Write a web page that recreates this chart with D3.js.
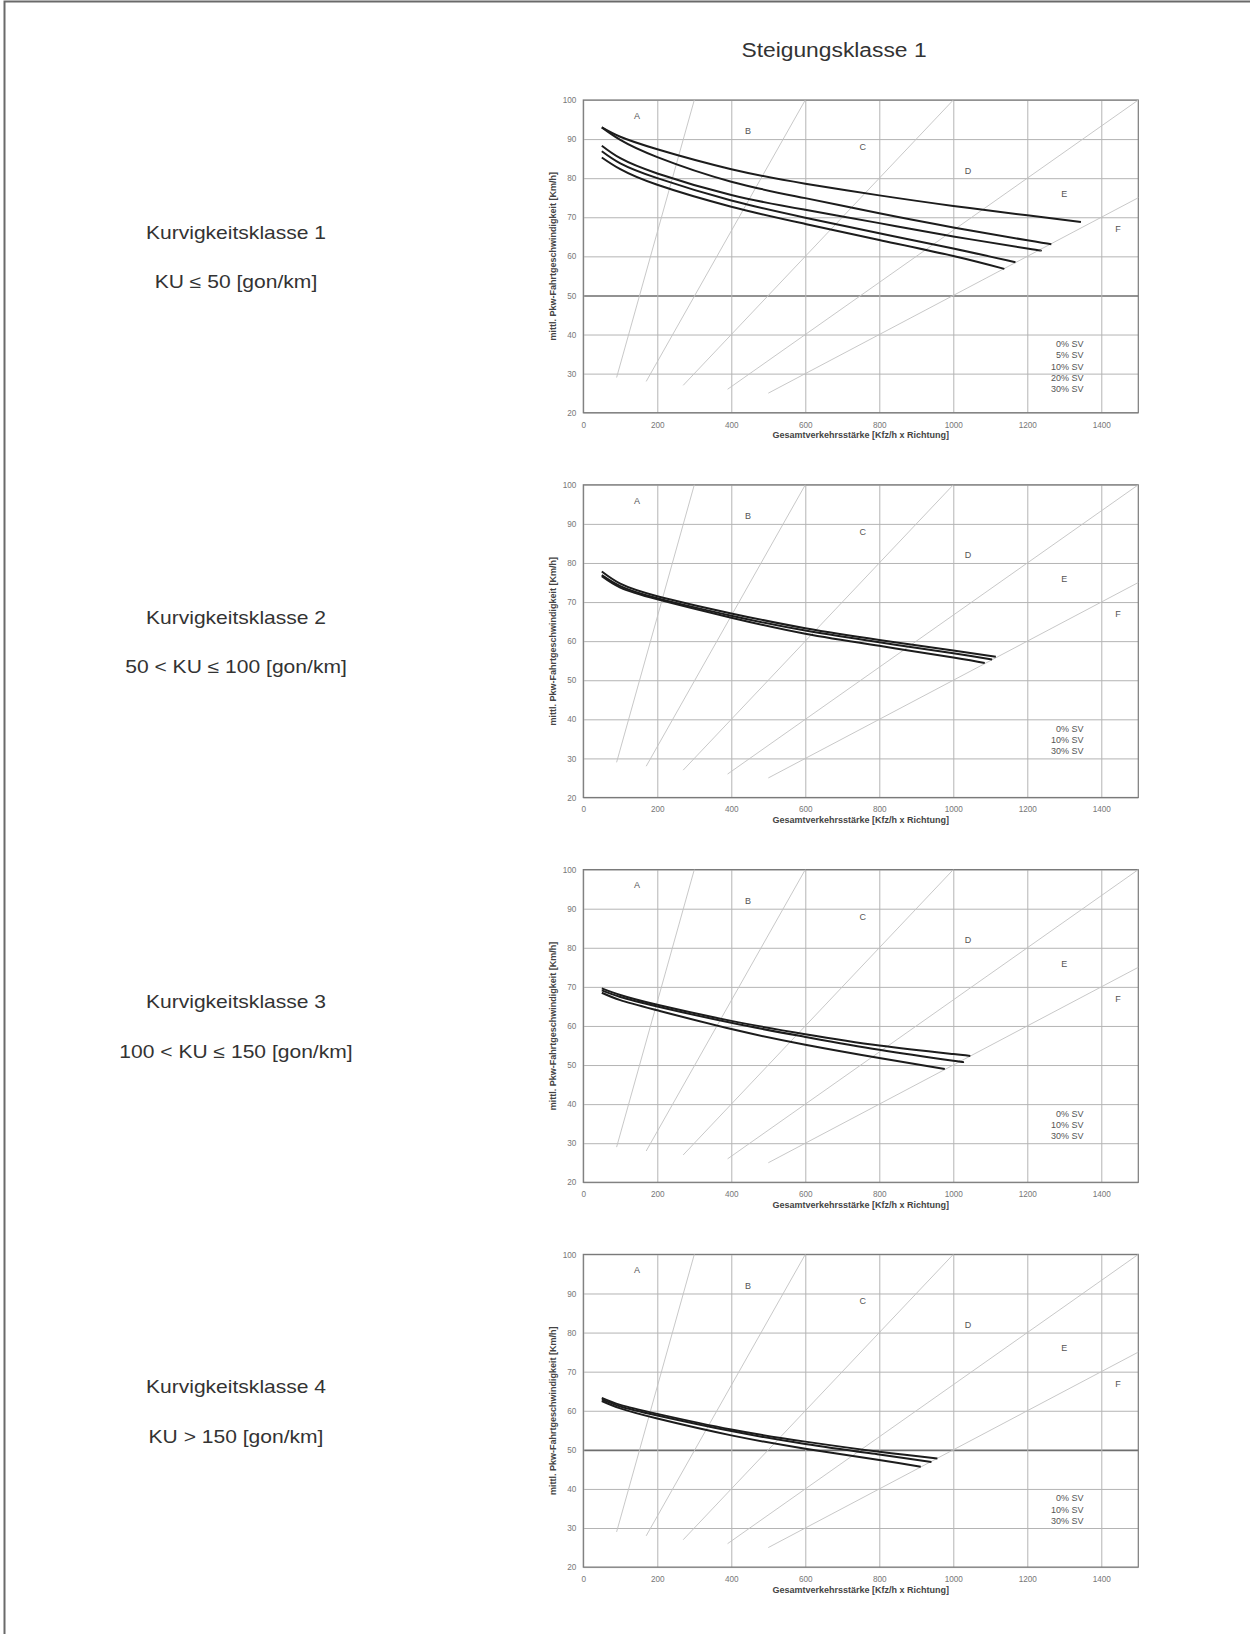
<!DOCTYPE html>
<html>
<head>
<meta charset="utf-8">
<script src="https://cdn.jsdelivr.net/npm/d3@7"></script>
<style>
  html, body { margin: 0; padding: 0; background: #fff; }
  svg { display: block; font-family: "Liberation Sans", Arial, sans-serif; }
</style>
</head>
<body>
<svg id="chart" width="1250" height="1634"></svg>
<script>
// ---- axes ----
const xTicks = [0, 200, 400, 600, 800, 1000, 1200, 1400];
const yTicks = [20, 30, 40, 50, 60, 70, 80, 90, 100];
const xDomain = [0, 1500];
const yDomain = [20, 100];

// ---- level-of-service zones (boundary lines and letters) ----
const zoneLetters = ["A", "B", "C", "D", "E", "F"];
const zoneLetterFlow = [145, 445, 755, 1040, 1300, 1445];
const zoneLetterSpeed = [96, 92, 88, 82, 76, 67];
const boundaryFrom = [[90, 29], [170, 28], [270, 27], [390, 26], [500, 25]];
const boundaryTo = [[300, 100], [600, 100], [1000, 100], [1500, 100], [1500, 75]];

// ---- speed curves: flow steps, speeds at those steps, curve end point ----
const flowSteps = [50, 100, 200, 400, 600, 800, 1000, 1200];

// Kurvigkeitsklasse 1
const k1Labels = ["0% SV", "5% SV", "10% SV", "20% SV", "30% SV"];
const k1Speeds = [
  [93.0, 90.6, 87.4, 82.3, 78.6, 75.6, 72.9, 70.5],
  [93.0, 89.8, 85.4, 79.1, 74.9, 71.0, 67.4, 64.1],
  [88.3, 85.1, 81.2, 75.7, 71.9, 68.5, 65.1, 62.0],
  [86.9, 83.8, 80.0, 74.3, 69.9, 65.9, 62.0],
  [85.3, 82.3, 78.3, 72.7, 68.3, 64.2, 60.1]
];
const k1Ends = [[1345, 68.8], [1265, 63.1], [1235, 61.5], [1168, 58.5], [1138, 56.8]];

// Kurvigkeitsklasse 2
const k2Labels = ["0% SV", "10% SV", "30% SV"];
const k2Speeds = [
  [77.8, 74.7, 71.5, 67.1, 63.3, 60.3, 57.6],
  [76.9, 74.1, 71.0, 66.5, 62.7, 59.7, 56.9],
  [76.6, 73.7, 70.7, 66.0, 61.9, 58.8, 55.8]
];
const k2Ends = [[1115, 56.0], [1105, 55.3], [1085, 54.4]];

// Kurvigkeitsklasse 3
const k3Labels = ["0% SV", "10% SV", "30% SV"];
const k3Speeds = [
  [69.6, 67.9, 65.4, 61.3, 57.9, 55.0, 52.8],
  [69.1, 67.4, 65.0, 60.8, 57.2, 53.9, 51.1],
  [68.5, 66.6, 64.0, 59.2, 55.2, 51.8]
];
const k3Ends = [[1046, 52.3], [1016, 50.9], [977, 49.0]];

// Kurvigkeitsklasse 4
const k4Labels = ["0% SV", "10% SV", "30% SV"];
const k4Speeds = [
  [63.3, 61.5, 59.2, 55.2, 52.1, 49.5],
  [62.9, 61.1, 58.8, 54.8, 51.5, 48.8],
  [62.5, 60.6, 58.0, 53.7, 50.3, 47.4]
];
const k4Ends = [[957, 47.8], [941, 46.9], [912, 45.7]];

// ---- panel texts ----
const pageTitle = "Steigungsklasse 1";
const classNames = ["Kurvigkeitsklasse 1", "Kurvigkeitsklasse 2", "Kurvigkeitsklasse 3", "Kurvigkeitsklasse 4"];
const classRanges = ["KU \u2264 50 [gon/km]", "50 < KU \u2264 100 [gon/km]", "100 < KU \u2264 150 [gon/km]", "KU > 150 [gon/km]"];
const xTitle = "Gesamtverkehrsst\u00e4rke [Kfz/h x Richtung]";
const yTitle = "mittl. Pkw-Fahrtgeschwindigkeit [Km/h]";

const panels = [
  { labels: k1Labels, speeds: k1Speeds, ends: k1Ends, strong50: true },
  { labels: k2Labels, speeds: k2Speeds, ends: k2Ends, strong50: false },
  { labels: k3Labels, speeds: k3Speeds, ends: k3Ends, strong50: false },
  { labels: k4Labels, speeds: k4Speeds, ends: k4Ends, strong50: true }
];

// ---- layout ----
const plotLeft = 583.3, plotWidth = 555, plotHeight = 312.7;
const firstTop = 100, panelStep = 384.8;
const labelCenterX = 236;
const wideText = 1.17; // horizontal stretch of the large captions

const svg = d3.select("#chart");

// page frame (top and left edges)
svg.append("path")
  .attr("d", "M4.5,1634 V1.5 H1250")
  .attr("fill", "none").attr("stroke", "#6a6a6a").attr("stroke-width", 2);

// large caption, centred on (cx, cy) and stretched horizontally
function caption(txt, cx, cy, size) {
  svg.append("g")
    .attr("transform", `translate(${cx},${cy}) scale(${wideText},1)`)
    .append("text")
    .attr("dy", "0.36em")
    .attr("text-anchor", "middle")
    .attr("font-size", size).attr("fill", "#333")
    .text(txt);
}

caption(pageTitle, 834, 50, 19.5);

const x = d3.scaleLinear().domain(xDomain).range([0, plotWidth]);
const y = d3.scaleLinear().domain(yDomain).range([plotHeight, 0]);

const line = d3.line()
  .x(d => x(d[0]))
  .y(d => y(d[1]))
  .curve(d3.curveNatural);

panels.forEach((p, i) => {
  const top = firstTop + i * panelStep;
  const g = svg.append("g").attr("transform", `translate(${plotLeft},${top})`);
  const midY = top + plotHeight / 2;

  // class label on the left
  caption(classNames[i], labelCenterX, midY - 24, 18);
  caption(classRanges[i], labelCenterX, midY + 25.5, 18);

  // horizontal grid + y tick labels
  const yAxis = g.append("g")
    .call(d3.axisLeft(y).tickValues(yTicks).tickSize(-plotWidth).tickPadding(7));
  yAxis.select(".domain").remove();
  yAxis.selectAll(".tick line")
    .attr("stroke", d => (p.strong50 && d === 50) ? "#6e6e6e" : "#b4b4b4")
    .attr("stroke-width", d => (p.strong50 && d === 50) ? 1.6 : 1);
  yAxis.selectAll(".tick text")
    .attr("font-size", 8.2).attr("fill", "#777").attr("font-family", "Liberation Sans, Arial, sans-serif");

  // vertical grid + x tick labels
  const xAxis = g.append("g")
    .attr("transform", `translate(0,${plotHeight})`)
    .call(d3.axisBottom(x).tickValues(xTicks).tickFormat(d3.format("d"))
      .tickSize(-plotHeight).tickPadding(9));
  xAxis.select(".domain").remove();
  xAxis.selectAll(".tick line").attr("stroke", "#b4b4b4").attr("stroke-width", 1);
  xAxis.selectAll(".tick text")
    .attr("font-size", 8.2).attr("fill", "#777").attr("font-family", "Liberation Sans, Arial, sans-serif");

  // plot frame
  g.append("rect")
    .attr("x", 0).attr("y", 0).attr("width", plotWidth).attr("height", plotHeight)
    .attr("fill", "none").attr("stroke", "#7a7a7a").attr("stroke-width", 1.2);

  // zone boundaries
  g.selectAll(".zone")
    .data(boundaryFrom.map((s, j) => [s, boundaryTo[j]]))
    .join("line")
    .attr("x1", d => x(d[0][0])).attr("y1", d => y(d[0][1]))
    .attr("x2", d => x(d[1][0])).attr("y2", d => y(d[1][1]))
    .attr("stroke", "#c2c2c2").attr("stroke-width", 0.9);

  // zone letters
  g.selectAll(".zl")
    .data(zoneLetters)
    .join("text")
    .attr("x", (d, j) => x(zoneLetterFlow[j]))
    .attr("y", (d, j) => y(zoneLetterSpeed[j]))
    .attr("dy", "0.35em")
    .attr("text-anchor", "middle").attr("font-size", 9).attr("fill", "#555")
    .text(d => d);

  // speed curves
  p.speeds.forEach((sp, j) => {
    const pts = sp.map((v, k) => [flowSteps[k], v]).concat([p.ends[j]]);
    g.append("path")
      .attr("d", line(pts))
      .attr("fill", "none").attr("stroke", "#1c1c1c").attr("stroke-width", 2)
      .attr("stroke-linecap", "butt");
  });

  // SV legend
  g.selectAll(".lg")
    .data(p.labels)
    .join("text")
    .attr("x", x(1352))
    .attr("y", (d, j) => y(37.6) + j * 11.3)
    .attr("dy", "0.35em")
    .attr("text-anchor", "end").attr("font-size", 9).attr("fill", "#555")
    .text(d => d);

  // axis titles
  g.append("text")
    .attr("x", plotWidth / 2).attr("y", plotHeight + 25.5)
    .attr("text-anchor", "middle").attr("font-size", 9).attr("font-weight", "bold").attr("fill", "#444")
    .text(xTitle);
  g.append("text")
    .attr("transform", `translate(-30,${plotHeight / 2}) rotate(-90)`)
    .attr("dy", "0.35em")
    .attr("text-anchor", "middle").attr("font-size", 9).attr("font-weight", "bold").attr("fill", "#444")
    .text(yTitle);
});
</script>
</body>
</html>
